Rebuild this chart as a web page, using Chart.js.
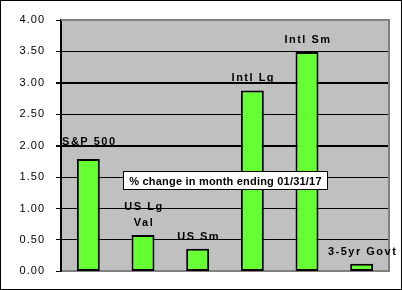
<!DOCTYPE html>
<html>
<head>
<meta charset="utf-8">
<script src="https://cdn.jsdelivr.net/npm/chart.js@4/dist/chart.umd.min.js"></script>
<style>
  html, body { margin: 0; padding: 0; background: #fff; }
  #wrap { width: 400px; height: 288px; border: 1px solid #000; position: relative; }
</style>
</head>
<body>
<div id="wrap"><canvas id="chart" width="400" height="288"></canvas></div>
<script>
// Data
const categories = [['S&P 500'], ['US Lg', 'Val'], ['US Sm'], ['Intl Lg'], ['Intl Sm'], ['3-5yr Govt']];
const changes = [1.79, 0.58, 0.36, 2.88, 3.49, 0.12];
const chartTitle = '% change in month ending 01/31/17';

const FONT = 'Arial, "Liberation Sans", sans-serif';

// gray plot background + right/top border, wide letter spacing like the original
const plotBg = {
    id: 'plotBg',
    beforeDraw(chart) {
        const { ctx, chartArea: a } = chart;
        ctx.letterSpacing = '1px';
        ctx.save();
        ctx.fillStyle = '#c0c0c0';
        ctx.fillRect(a.left, a.top, a.right - a.left, a.bottom - a.top);
        ctx.restore();
    },
    afterDatasetsDraw(chart) {
        const { ctx, chartArea: a } = chart;
        ctx.save();
        ctx.strokeStyle = '#808080';
        ctx.lineWidth = 2;
        ctx.beginPath();
        ctx.moveTo(a.left, a.top);
        ctx.lineTo(a.right, a.top);
        ctx.lineTo(a.right, a.bottom);
        ctx.stroke();
        ctx.restore();
    }
};

// labels above bars + title box
const barLabels = {
    id: 'barLabels',
    afterDatasetsDraw(chart) {
        const { ctx } = chart;
        const meta = chart.getDatasetMeta(0);
        ctx.save();
        ctx.font = 'bold 11px ' + FONT;
        ctx.letterSpacing = '1.5px';
        ctx.fillStyle = '#000';
        ctx.textAlign = 'center';
        ctx.textBaseline = 'middle';
        meta.data.forEach((bar, i) => {
            const lines = categories[i];
            const extra = i === 0 ? 5 : 0;
            lines.forEach((t, j) => {
                const y = bar.y - 12 - extra - (lines.length - 1 - j) * 16;
                ctx.fillText(t, bar.x + 1, y);
            });
        });

        // title box
        const a = chart.chartArea;
        const cx = a.left + (a.right - a.left) * 0.5 + 0;
        const cy = chart.scales.y.getPixelForValue(1.45);
        ctx.letterSpacing = '0.2px';
        const w = 204;
        const h = 18;
        const bx = Math.round(cx - w / 2) + 0.5, by = Math.round(cy - h / 2) + 0.5;
        ctx.fillStyle = '#fff';
        ctx.fillRect(bx, by, w, h);
        ctx.strokeStyle = '#000';
        ctx.lineWidth = 1;
        ctx.strokeRect(bx, by, w, h);
        ctx.fillStyle = '#000';
        ctx.fillText(chartTitle, bx + w / 2, by + h / 2 + 1);
        ctx.restore();
    }
};

new Chart(document.getElementById('chart'), {
    type: 'bar',
    data: {
        labels: categories.map(c => c.join(' ')),
        datasets: [{
            data: changes,
            backgroundColor: '#66ff33',
            borderColor: '#000',
            borderWidth: 2,
            borderSkipped: false,
            categoryPercentage: 1,
            barPercentage: 0.42
        }]
    },
    options: {
        responsive: false,
        animation: false,
        events: [],
        layout: { padding: { top: 19, right: 12, bottom: 0, left: 0 } },
        plugins: {
            legend: { display: false },
            tooltip: { enabled: false }
        },
        scales: {
            x: {
                ticks: { display: false },
                grid: { display: false, drawTicks: false },
                border: { color: '#808080', width: 2 },
                afterFit(s) { s.height = 17; }
            },
            y: {
                min: 0,
                max: 4,
                ticks: {
                    stepSize: 0.5,
                    color: '#000',
                    font: { family: FONT, size: 11 },
                    padding: 11,
                    callback: v => v.toFixed(2)
                },
                grid: {
                    color: '#000',
                    lineWidth: c => (c.tick && (c.tick.value === 2 || c.tick.value === 3) ? 2 : 1),
                    tickLength: 5,
                    drawOnChartArea: true
                },
                border: { color: '#000', width: 2 },
                afterFit(s) { s.width = 60; }
            }
        }
    },
    plugins: [plotBg, barLabels]
});
</script>
</body>
</html>
